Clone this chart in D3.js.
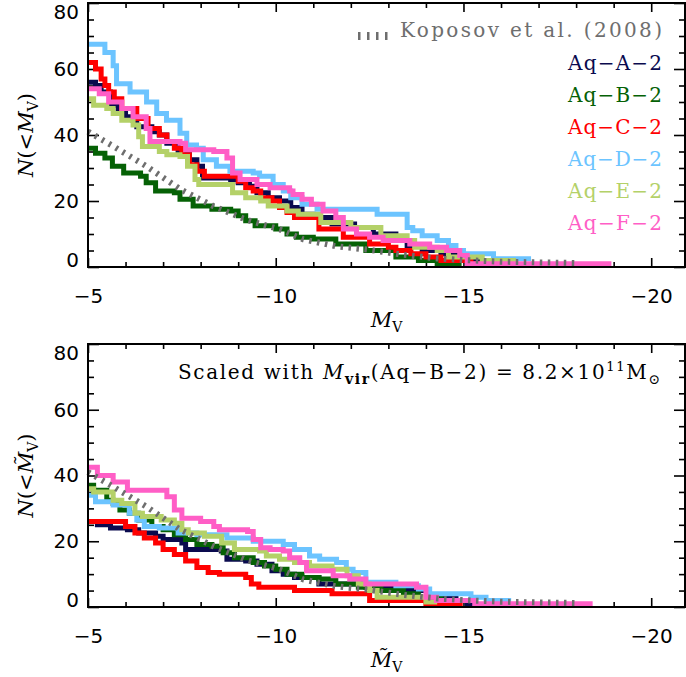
<!DOCTYPE html>
<html>
<head>
<meta charset="utf-8">
<script src="https://cdn.jsdelivr.net/npm/d3@7"></script>
<style>
body { margin: 0; background: #fff; }
text { font-family: "DejaVu Serif", serif; white-space: pre; }
.tick text { font-family: "DejaVu Sans", sans-serif; font-size: 20px; }
</style>
</head>
<body>
<div id="root"></div>
<script>
// series names and colours
var names = ["Aq−A−2", "Aq−B−2", "Aq−C−2", "Aq−D−2", "Aq−E−2", "Aq−F−2"];
var colors = ["#0a0a4e", "#056105", "#ff0000", "#6cc4ff", "#b4d168", "#ff5ec6"];
var kopColor = "#6e6e6e";

var xTicks = [-5, -10, -15, -20];
var yTicks = [0, 20, 40, 60, 80];

// top panel: [M_V, N(<M_V)] step points (last point = end of curve)
var topA = [[-5.0,56],[-5.2,55],[-5.35,53],[-5.6,49],[-5.8,47.5],[-6.0,45.5],[-6.2,44.5],[-6.3,42.5],[-6.7,41],[-6.9,40],[-7.1,37.5],[-7.4,34.5],[-7.7,32.5],[-7.9,30.5],[-8.05,27],[-8.8,26.5],[-9.0,25.5],[-9.3,24.5],[-9.5,22.5],[-9.8,21],[-10.1,20],[-10.4,18],[-10.7,16],[-11.0,15],[-11.5,13],[-12.1,12],[-12.6,10],[-13.2,8],[-13.5,6.5],[-13.9,5],[-14.4,4],[-14.9,3],[-15.1,2],[-15.4,1],[-16.0,1]];
var topB = [[-5.0,36],[-5.2,34.5],[-5.45,33],[-5.65,30.5],[-5.95,28.5],[-6.4,27.5],[-6.55,25.5],[-6.8,23],[-7.3,22.5],[-7.45,20.5],[-7.8,18.5],[-8.3,17.5],[-8.8,17],[-9.0,15.5],[-9.2,14],[-9.45,12.5],[-10.0,11.5],[-10.3,10],[-10.55,9],[-11.0,8.5],[-11.6,7],[-12.4,5],[-13.2,3],[-13.8,2],[-14.3,1],[-14.95,1]];
var topC = [[-5.0,62],[-5.2,60],[-5.35,57],[-5.45,55],[-5.55,53],[-5.7,51],[-5.9,48],[-6.3,45],[-6.6,42],[-6.9,40],[-7.1,38],[-7.3,36],[-7.5,34],[-7.7,31],[-7.9,29],[-8.1,27.5],[-9.0,26],[-9.2,24],[-9.4,23],[-9.6,21],[-9.9,20],[-10.1,18],[-10.3,16.5],[-10.5,15],[-11.15,11.5],[-11.8,9],[-12.5,7],[-13.0,6],[-13.2,5],[-13.6,4],[-14.0,3],[-14.4,2],[-15.2,1],[-15.85,1]];
var topD = [[-5.0,67.5],[-5.45,65],[-5.67,61],[-5.76,55.5],[-6.12,53],[-6.56,50],[-6.83,46.5],[-7.09,44.5],[-7.45,40.5],[-7.63,37],[-7.89,36],[-8.07,32.5],[-8.42,30.5],[-8.78,29],[-9.4,28.5],[-9.57,27.5],[-9.93,25],[-10.2,23],[-10.4,21],[-10.7,19],[-11.1,17.5],[-12.7,16],[-13.5,12],[-13.65,11],[-13.9,9.5],[-14.3,8],[-14.6,6.5],[-14.8,5],[-15.0,4],[-15.8,2.5],[-16.8,2.5]];
var topE = [[-5.0,51],[-5.15,49],[-5.5,48],[-5.67,46.5],[-5.9,44.5],[-6.2,43],[-6.35,39.5],[-6.45,36.5],[-6.9,35],[-7.1,34],[-7.45,33.5],[-7.65,30.5],[-7.85,26.5],[-7.95,25],[-8.85,22.5],[-9.2,21],[-9.6,20],[-9.8,18.5],[-10.3,17],[-10.6,16],[-11.2,13.5],[-12.0,12],[-12.8,9.5],[-13.5,8],[-13.7,6],[-14.3,5],[-14.6,3],[-15.5,2],[-16.4,2]];
var topF = [[-5.0,54],[-5.3,52.5],[-5.55,50],[-5.9,48],[-6.2,45.5],[-6.55,42],[-6.65,38],[-7.45,37.5],[-7.6,35.5],[-8.35,35],[-8.7,33],[-8.85,28.5],[-9.05,26.5],[-9.5,25],[-9.85,24],[-10.37,23],[-10.46,22],[-10.7,20.5],[-10.95,19],[-11.26,17],[-11.6,15],[-11.8,11.5],[-12.15,10],[-12.5,9],[-12.86,8],[-13.57,7],[-14.1,6],[-14.55,5],[-14.9,3.5],[-15.1,1],[-18.94,1]];

// bottom panel: scaled magnitudes
var botA = [[-5.0,26],[-5.25,25],[-5.6,24],[-6.05,23.5],[-6.35,22.5],[-6.8,21.5],[-7.0,20.5],[-7.5,19.5],[-7.6,17.5],[-8.55,17],[-8.7,14.5],[-9.2,14],[-9.5,13],[-9.9,11],[-10.2,10],[-10.5,9],[-11.15,7],[-12.4,6],[-13.1,5],[-14.05,3.5],[-14.8,2],[-15.1,1],[-15.35,1]];
var botB = [[-5.0,37],[-5.15,35.5],[-5.5,32.5],[-5.67,31.5],[-5.85,29.5],[-6.1,28.5],[-6.35,26.5],[-6.7,24.5],[-7.0,23.5],[-7.3,22],[-7.6,20.5],[-7.9,19],[-8.3,18.5],[-8.6,16.5],[-8.9,15],[-9.4,13.5],[-9.7,12.5],[-10.0,11.5],[-10.3,10],[-10.7,9],[-11.15,8.5],[-11.6,7],[-12.2,6],[-12.8,5],[-13.4,4],[-13.8,3],[-14.4,2],[-14.7,2]];
var botC = [[-5.0,26],[-6.0,24.5],[-6.25,22.5],[-6.5,21],[-6.8,19.5],[-7.0,17.5],[-7.3,16],[-7.6,14],[-7.9,12],[-8.2,10.5],[-8.5,10],[-9.2,9],[-9.35,7],[-9.55,6],[-10.5,5],[-11.5,4],[-12.5,2],[-14.0,1],[-14.98,1]];
var botD = [[-5.0,34],[-5.2,32],[-5.67,31],[-6.1,28.5],[-6.3,26.5],[-6.5,24.5],[-6.9,24],[-7.4,22.5],[-7.9,22],[-8.7,21],[-9.4,20],[-10.2,19],[-10.5,17.5],[-10.9,15.5],[-11.17,14.5],[-11.62,13.5],[-11.88,11.5],[-12.06,10.5],[-12.4,7.5],[-13.2,6.5],[-13.8,5.5],[-14.1,4],[-15.2,3],[-15.6,2],[-16.27,2]];
var botE = [[-5.0,36],[-5.15,35],[-5.67,32.5],[-5.9,31.5],[-6.25,28.5],[-6.45,27.5],[-6.95,26.5],[-7.3,25.5],[-7.5,23.5],[-7.67,22.5],[-8.1,21.5],[-8.56,19.5],[-8.9,17.5],[-9.57,17],[-9.75,15.5],[-10.1,14.5],[-10.5,13.5],[-10.9,12.5],[-11.5,11.5],[-11.9,9.5],[-12.2,7],[-12.5,5],[-12.7,3],[-14.0,1.5],[-14.3,1.5]];
var botF = [[-5.0,42.5],[-5.25,40],[-5.67,38],[-6.05,35.5],[-7.1,33.5],[-7.3,29.5],[-7.5,27],[-8.0,26],[-8.35,24.5],[-8.5,23.5],[-9.25,23],[-9.4,20.5],[-9.6,18],[-9.85,17.5],[-10.2,17],[-10.37,15],[-10.64,13.5],[-10.82,11],[-11.53,9.5],[-11.97,8.5],[-12.4,7],[-13.75,6],[-14.0,3],[-14.28,2],[-15.3,1],[-18.44,1]];

// Koposov et al. (2008) luminosity function
var koposov = [[-5.0,41],[-5.67,36.6],[-6.56,30.5],[-7.45,23.6],[-8.33,18.5],[-9.22,14.3],[-10.11,11.4],[-10.73,8.4],[-11.6,6.3],[-12.5,5.2],[-13.4,3.7],[-14.3,2.6],[-15.0,2.1],[-16.0,1.6],[-18.05,1.2]];

var W = 686, H = 677;
var left = 88, right = 685;

var svg = d3.select("#root")
    .append("svg")
    .attr("width", W)
    .attr("height", H)
    .style("background", "#fff");

var x = d3.scaleLinear().domain([-5, -20.9]).range([left, right]);

function fmt(d) {
    return d < 0 ? "\u2212" + Math.abs(d) : "" + d;
}

function drawPanel(top, bottom, sets, tilde) {
    var y = d3.scaleLinear().domain([0, 80]).range([bottom, top]);
    var g = svg.append("g");

    // minor ticks
    var xMinor = d3.range(-6, -21, -1).filter((d) => d % 5 !== 0);
    var yMinor = d3.range(5, 80, 5).filter((d) => d % 20 !== 0);

    g.append("g")
        .attr("transform", "translate(0," + bottom + ")")
        .call(d3.axisBottom(x).tickValues(xMinor).tickSize(-5).tickFormat(""));
    g.append("g")
        .attr("transform", "translate(0," + top + ")")
        .call(d3.axisTop(x).tickValues(xMinor).tickSize(-5).tickFormat(""));
    g.append("g")
        .attr("transform", "translate(" + left + ",0)")
        .call(d3.axisLeft(y).tickValues(yMinor).tickSize(-6).tickFormat(""));
    g.append("g")
        .attr("transform", "translate(" + right + ",0)")
        .call(d3.axisRight(y).tickValues(yMinor).tickSize(-6).tickFormat(""));

    // major ticks
    g.append("g")
        .attr("transform", "translate(0," + bottom + ")")
        .call(d3.axisBottom(x).tickValues(xTicks).tickSize(-9).tickPadding(22).tickFormat(fmt));
    g.append("g")
        .attr("transform", "translate(0," + top + ")")
        .call(d3.axisTop(x).tickValues(xTicks).tickSize(-9).tickFormat(""));
    var yl = g.append("g")
        .attr("transform", "translate(" + left + ",0)")
        .call(d3.axisLeft(y).tickValues(yTicks).tickSize(-11).tickPadding(9).tickFormat(fmt));
    g.append("g")
        .attr("transform", "translate(" + right + ",0)")
        .call(d3.axisRight(y).tickValues(yTicks).tickSize(-11).tickFormat(""));

    yl.selectAll(".tick text").attr("transform", (d) => {
        if (d === 0) return "translate(0,-7)";
        if (d === 80) return "translate(0,9)";
        return null;
    });

    g.selectAll(".domain").remove();
    g.selectAll(".tick line").attr("stroke", "#000").attr("stroke-width", 1.6);
    g.selectAll(".tick text").attr("fill", "#000");

    // curves
    var line = d3.line()
        .x((d) => x(d[0]))
        .y((d) => y(d[1]))
        .curve(d3.curveStepAfter);

    sets.forEach((s, i) => {
        g.append("path")
            .datum(s)
            .attr("d", line)
            .attr("fill", "none")
            .attr("stroke", colors[i])
            .attr("stroke-width", 5)
            .attr("stroke-linejoin", "miter");
    });

    g.append("path")
        .datum(koposov)
        .attr("d", d3.line().x((d) => x(d[0])).y((d) => y(d[1])))
        .attr("fill", "none")
        .attr("stroke", kopColor)
        .attr("stroke-width", 6)
        .attr("stroke-dasharray", "2.5,5.5");

    // frame
    g.append("rect")
        .attr("x", left)
        .attr("y", top)
        .attr("width", right - left)
        .attr("height", bottom - top)
        .attr("fill", "none")
        .attr("stroke", "#000")
        .attr("stroke-width", 2);

    // y title
    var yt = g.append("text")
        .attr("transform", "translate(33," + (top + bottom) / 2 + ") rotate(-90)")
        .attr("text-anchor", "middle")
        .style("font-size", "21px");
    yt.append("tspan").style("font-style", "italic").text("N");
    yt.append("tspan").text("(<");
    yt.append("tspan").style("font-style", "italic").text(tilde ? "M\u0303" : "M");
    yt.append("tspan").attr("dy", 5).style("font-size", "14px").text("V");
    yt.append("tspan").attr("dy", -5).text(")");

    // x title
    var xt = g.append("text")
        .attr("x", (left + right) / 2)
        .attr("y", bottom + 60)
        .attr("text-anchor", "middle")
        .style("font-size", "21px");
    xt.append("tspan").style("font-style", "italic").text(tilde ? "M\u0303" : "M");
    xt.append("tspan").attr("dy", 5).style("font-size", "14px").text("V");

    return y;
}

drawPanel(3, 267, [topA, topB, topC, topD, topE, topF], false);
drawPanel(344, 607, [botA, botB, botC, botD, botE, botF], true);

// legend (top panel)
svg.append("line")
    .attr("x1", 358).attr("x2", 389)
    .attr("y1", 36).attr("y2", 36)
    .attr("stroke", kopColor)
    .attr("stroke-width", 8)
    .attr("stroke-dasharray", "2.5,6.5");
svg.append("text")
    .attr("x", 662).attr("y", 37)
    .attr("text-anchor", "end")
    .attr("textLength", 262)
    .attr("lengthAdjust", "spacing")
    .style("font-size", "20px")
    .attr("fill", kopColor)
    .text("Koposov et al. (2008)");

names.forEach((n, i) => {
    svg.append("text")
        .attr("x", 662)
        .attr("y", 70 + i * 32)
        .attr("text-anchor", "end")
        .attr("textLength", 94)
        .attr("lengthAdjust", "spacing")
        .style("font-size", "20px")
        .attr("fill", colors[i])
        .text(n);
});

// annotation (bottom panel)
var ann = svg.append("text")
    .attr("x", 178)
    .attr("y", 379)
    .attr("textLength", 482)
    .attr("lengthAdjust", "spacing")
    .style("font-size", "20px");
ann.append("tspan").text("Scaled with ");
ann.append("tspan").style("font-style", "italic").text("M");
ann.append("tspan").attr("dy", 5).style("font-size", "14px").style("font-weight", "bold").text("vir");
ann.append("tspan").attr("dy", -5).text("(Aq\u2212B\u22122) = 8.2\u00d710");
ann.append("tspan").attr("dy", -8).style("font-size", "13px").text("11");
ann.append("tspan").attr("dy", 8).text("M");
ann.append("tspan").attr("dy", 5).style("font-size", "14px").text("\u2299");
</script>
</body>
</html>
